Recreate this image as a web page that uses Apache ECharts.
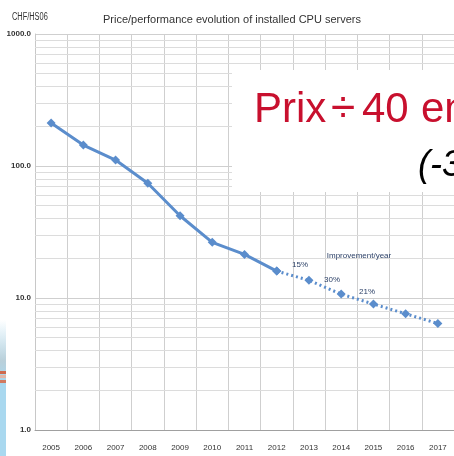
<!DOCTYPE html>
<html>
<head>
<meta charset="utf-8">
<script src="https://cdn.jsdelivr.net/npm/echarts@6/dist/echarts.min.js"></script>
<style>
  html, body { margin: 0; padding: 0; background: #fff; }
  #chart { width: 454px; height: 456px; }
</style>
</head>
<body>
<div id="chart"></div>
<script>
const years = ['2005', '2006', '2007', '2008', '2009', '2010', '2011', '2012', '2013', '2014', '2015', '2016', '2017'];
// CHF/HS06, measured up to 2012, projected afterwards
const measured = [212, 144, 111, 74, 42, 26.4, 21.4, 16.0];
const projected = [16.0, 13.6, 10.7, 9.0, 7.6, 6.4];
const minorTicks = [2, 3, 4, 5, 6, 7, 8, 9, 20, 30, 40, 50, 60, 70, 80, 90, 200, 300, 400, 500, 600, 700, 800, 900];

const solidData = years.map((y, i) => i < measured.length ? measured[i] : null);
const dottedData = years.map((y, i) => {
  const k = i - (measured.length - 1);
  return k >= 0 ? projected[k] : null;
});

const lineColor = '#5b8dcc';
const narrow = '"Liberation Sans Narrow", "Liberation Sans", sans-serif';
const sans = '"Liberation Sans", Arial, sans-serif';
const red = '#c8102e';

const myChart = echarts.init(document.getElementById('chart'));

const option = {
  animation: false,
  backgroundColor: '#fff',
  grid: {
    left: 35,
    right: -4,
    top: 34,
    bottom: 26,
  },
  xAxis: {
    type: 'category',
    data: years,
    boundaryGap: true,
    axisLine: { lineStyle: { color: '#a0a0a0' } },
    axisTick: { show: false },
    axisLabel: { fontSize: 8, color: '#333', margin: 14, fontFamily: narrow, interval: 0 },
    splitLine: { show: true, interval: 0, lineStyle: { color: '#cfcfcf' } },
  },
  yAxis: {
    type: 'log',
    logBase: 10,
    min: 1,
    max: 1000,
    axisLine: { show: true, lineStyle: { color: '#c8c8c8' } },
    axisTick: { show: false },
    axisLabel: {
      fontSize: 8, color: '#333', margin: 4, fontFamily: narrow, fontWeight: 'bold',
      formatter: v => v.toFixed(1),
    },
    splitLine: { lineStyle: { color: '#cfcfcf' } },
  },
  series: [
    {
      type: 'line',
      data: solidData,
      symbol: 'diamond',
      symbolSize: 9,
      itemStyle: { color: lineColor },
      lineStyle: { color: lineColor, width: 3 },
      z: 5,
      markLine: {
        silent: true,
        symbol: 'none',
        label: { show: false },
        lineStyle: { color: '#dcdcdc', type: 'solid', width: 1 },
        data: minorTicks.map(v => ({ yAxis: v })),
        z: 1,
      },
    },
    {
      type: 'line',
      data: dottedData,
      symbol: 'diamond',
      symbolSize: 9,
      itemStyle: { color: lineColor },
      lineStyle: { color: lineColor, width: 3, type: [2, 3] },
      z: 5,
    },
  ],
  graphic: [
    {
      type: 'text', x: 12, y: 17, scaleX: 0.74,
      style: { text: 'CHF/HS06', fontSize: 10, fill: '#333', fontFamily: sans, verticalAlign: 'middle' },
    },
    {
      type: 'text', x: 232, y: 20,
      style: {
        text: 'Price/performance evolution of installed CPU servers',
        fontSize: 11, fill: '#333', fontFamily: narrow,
        align: 'center', verticalAlign: 'middle',
      },
    },
    {
      type: 'rect', z: 50,
      shape: { x: 232, y: 70, width: 230, height: 122 },
      style: { fill: '#fff' },
    },
    // "Prix ÷ 40 en", pieces placed like the slide text
    {
      type: 'text', z: 51, x: 254, y: 110,
      style: { text: 'Prix', fontSize: 42, fill: red, fontFamily: sans, verticalAlign: 'middle' },
    },
    {
      type: 'text', z: 51, x: 343, y: 110,
      style: { text: '\u00f7', fontSize: 44, fill: red, fontFamily: sans, align: 'center', verticalAlign: 'middle' },
    },
    {
      type: 'text', z: 51, x: 362, y: 110,
      style: { text: '40', fontSize: 42, fill: red, fontFamily: sans, verticalAlign: 'middle' },
    },
    {
      type: 'text', z: 51, x: 421, y: 110,
      style: { text: 'en', fontSize: 42, fill: red, fontFamily: sans, verticalAlign: 'middle' },
    },
    {
      type: 'text', z: 51, x: 418, y: 166,
      style: {
        text: '(-30%/an)', fontSize: 36, fill: '#000', fontStyle: 'italic',
        fontFamily: sans, verticalAlign: 'middle',
      },
    },
    {
      type: 'text', z: 20, x: 359, y: 256,
      style: { text: 'Improvement/year', fontSize: 8, fill: '#2a3f66', fontFamily: narrow, align: 'center', verticalAlign: 'middle' },
    },
    {
      type: 'text', z: 20, x: 300, y: 265,
      style: { text: '15%', fontSize: 8, fill: '#2a3f66', fontFamily: narrow, align: 'center', verticalAlign: 'middle' },
    },
    {
      type: 'text', z: 20, x: 332, y: 280,
      style: { text: '30%', fontSize: 8, fill: '#2a3f66', fontFamily: narrow, align: 'center', verticalAlign: 'middle' },
    },
    {
      type: 'text', z: 20, x: 367, y: 292,
      style: { text: '21%', fontSize: 8, fill: '#2a3f66', fontFamily: narrow, align: 'center', verticalAlign: 'middle' },
    },
    {
      type: 'rect', z: 60,
      shape: { x: 0, y: 320, width: 6, height: 136 },
      style: {
        fill: new echarts.graphic.LinearGradient(0, 0, 0, 1, [
          { offset: 0, color: 'rgba(168,216,238,0)' },
          { offset: 0.3, color: '#b9cfd9' },
          { offset: 0.45, color: '#a9d8ef' },
          { offset: 1, color: '#a9d8ef' },
        ]),
      },
    },
    {
      type: 'rect', z: 61,
      shape: { x: 0, y: 371, width: 6, height: 3 },
      style: { fill: '#cf6a4e' },
    },
    {
      type: 'rect', z: 61,
      shape: { x: 0, y: 375, width: 6, height: 3 },
      style: { fill: '#e2b6a8' },
    },
    {
      type: 'rect', z: 61,
      shape: { x: 0, y: 380, width: 6, height: 3 },
      style: { fill: '#d27a60' },
    },
  ],
};

myChart.setOption(option);
</script>
</body>
</html>
